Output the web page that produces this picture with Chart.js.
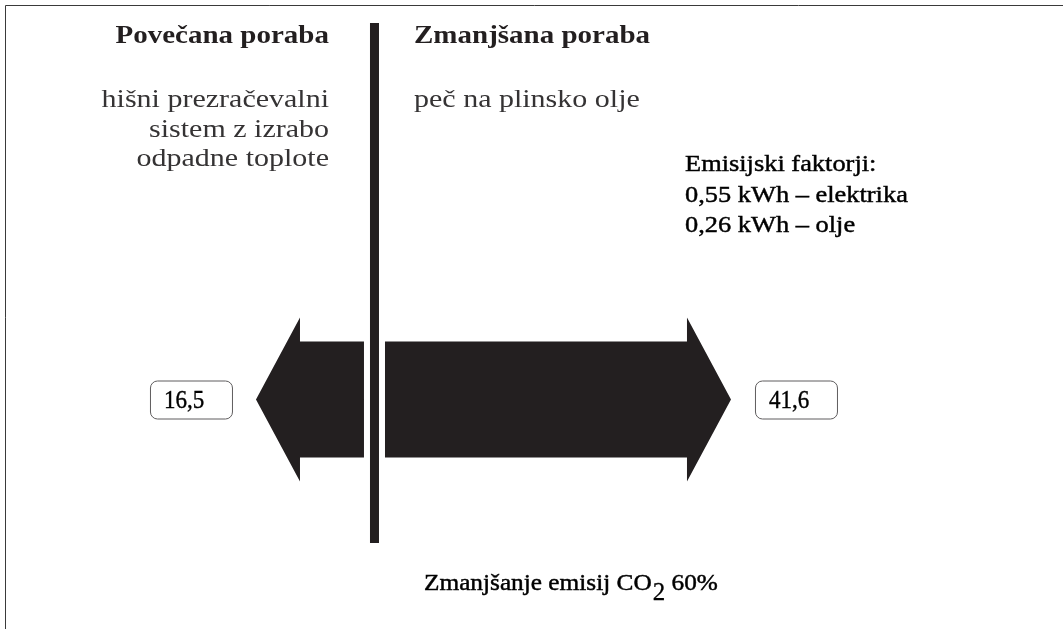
<!DOCTYPE html>
<html>
<head>
<meta charset="utf-8">
<script src="https://cdn.jsdelivr.net/npm/chart.js@4.4.1/dist/chart.umd.min.js"></script>
<style>
html,body{margin:0;padding:0;background:#fff;}
#wrap{position:relative;width:1063px;height:629px;}
canvas{display:block;}
</style>
</head>
<body>
<div id="wrap"><canvas id="c" width="1063" height="629"></canvas></div>
<script>
// ---- data ----
const categories = ['Poraba energije'];
const leftLabel = 'Povečana poraba';
const rightLabel = 'Zmanjšana poraba';
const leftValues = [16.5];   // hišni prezračevalni sistem z izrabo odpadne toplote
const rightValues = [41.6];  // peč na plinsko olje
const leftDescription = ['hišni prezračevalni', 'sistem z izrabo', 'odpadne toplote'];
const rightDescription = ['peč na plinsko olje'];
const factorLines = ['Emisijski faktorji:', '0,55 kWh – elektrika', '0,26 kWh – olje'];
const reductionPercent = [60];

const INK = '#231f20';
const GREY = '#353334';

function fmt(v){ return String(v).replace('.', ','); }

function drawText(ctx, text, x, y, font, color, align, sx, stroke){
  ctx.save();
  ctx.font = font;
  ctx.fillStyle = color;
  ctx.textAlign = align;
  ctx.textBaseline = 'alphabetic';
  ctx.translate(x, y);
  ctx.scale(sx, 1);
  ctx.fillText(text, 0, 0);
  if (stroke) {
    ctx.strokeStyle = color;
    ctx.lineWidth = stroke;
    ctx.strokeText(text, 0, 0);
  }
  const w = ctx.measureText(text).width * sx;
  ctx.restore();
  return w;
}

const arrowPlugin = {
  id: 'arrows',
  afterDatasetsDraw(chart){
    const ctx = chart.ctx;
    chart.data.datasets.forEach((ds, di) => {
      const meta = chart.getDatasetMeta(di);
      meta.data.forEach((el, i) => {
        const p = el.getProps(['x','y','base','height'], true);
        const dir = p.x >= p.base ? 1 : -1;
        const headLen = 44, headHalf = 82, bodyHalf = p.height / 2;
        const hb = p.x - dir * headLen;
        ctx.save();
        ctx.fillStyle = INK;
        ctx.beginPath();
        ctx.moveTo(p.base, p.y - bodyHalf);
        ctx.lineTo(hb, p.y - bodyHalf);
        ctx.lineTo(hb, p.y - headHalf);
        ctx.lineTo(p.x, p.y);
        ctx.lineTo(hb, p.y + headHalf);
        ctx.lineTo(hb, p.y + bodyHalf);
        ctx.lineTo(p.base, p.y + bodyHalf);
        ctx.closePath();
        ctx.fill();
        // value box
        const bw = 82, bh = 38, gap = 24;
        const bx = dir > 0 ? p.x + gap : p.x - gap - bw;
        const by = p.y - bh / 2;
        ctx.strokeStyle = '#5f5d5e';
        ctx.lineWidth = 1;
        ctx.beginPath();
        ctx.roundRect(bx + 0.5, by + 0.5, bw, bh, 7);
        ctx.stroke();
        ctx.restore();
        drawText(ctx, fmt(ds.data[i]), bx + 14, p.y + 8.5, '25px "Liberation Serif"', '#000', 'left', 0.92, 0.4);
      });
    });
  },
  afterDraw(chart){
    const ctx = chart.ctx;
    const xL = chart.scales.xL, xR = chart.scales.xR;
    const mid = (xL.getPixelForValue(0) + xR.getPixelForValue(0)) / 2;
    // frame
    ctx.save();
    ctx.strokeStyle = '#3a3a3a';
    ctx.lineWidth = 1;
    ctx.beginPath();
    ctx.moveTo(5.5, 629);
    ctx.lineTo(5.5, 5.5);
    ctx.lineTo(1063, 5.5);
    ctx.stroke();
    // divider
    ctx.fillStyle = INK;
    ctx.fillRect(mid - 4.5, 23, 9, 520);
    ctx.restore();

    const sx = 1.16;
    drawText(ctx, leftLabel, 329, 43, 'bold 25px "Liberation Serif"', INK, 'right', sx);
    drawText(ctx, rightLabel, 414, 43, 'bold 25px "Liberation Serif"', INK, 'left', sx);
    leftDescription.forEach((t, k) => drawText(ctx, t, 329, 107 + k * 29.5, '25px "Liberation Serif"', GREY, 'right', 1.2));
    rightDescription.forEach((t, k) => drawText(ctx, t, 414, 107 + k * 29.5, '25px "Liberation Serif"', GREY, 'left', 1.2));
    factorLines.forEach((t, k) => drawText(ctx, t, 685, 171 + k * 30.5, '24px "Liberation Serif"', '#000', 'left', 1.1, 0.45));

    // bottom note with CO2
    const f = '23px "Liberation Serif"';
    let x = 424;
    x += drawText(ctx, 'Zmanjšanje emisij CO', x, 590, f, '#000', 'left', 1.1, 0.45);
    x += 1;
    x += drawText(ctx, '2', x, 600, '25px "Liberation Serif"', '#000', 'left', 1.0, 0.3);
    drawText(ctx, ' ' + reductionPercent[0] + '%', x, 590, f, '#000', 'left', 1.1, 0.45);
  }
};

new Chart(document.getElementById('c'), {
  type: 'bar',
  data: {
    labels: categories,
    datasets: [
      { label: leftLabel, data: leftValues, xAxisID: 'xL', backgroundColor: 'rgba(0,0,0,0)', borderWidth: 0, grouped: false, barThickness: 116 },
      { label: rightLabel, data: rightValues, xAxisID: 'xR', backgroundColor: 'rgba(0,0,0,0)', borderWidth: 0, grouped: false, barThickness: 116 }
    ]
  },
  options: {
    indexAxis: 'y',
    responsive: false,
    animation: false,
    devicePixelRatio: 1,
    layout: { padding: { top: 170, bottom: 0, left: 0, right: 0 } },
    plugins: { legend: { display: false }, tooltip: { enabled: false } },
    scales: {
      y: { display: false },
      xL: { type: 'linear', position: 'bottom', reverse: true, min: -106.8, max: 55.61, display: false },
      xR: { type: 'linear', position: 'bottom', min: -46.29, max: 81.52, display: false }
    }
  },
  plugins: [arrowPlugin]
});
</script>
</body>
</html>
